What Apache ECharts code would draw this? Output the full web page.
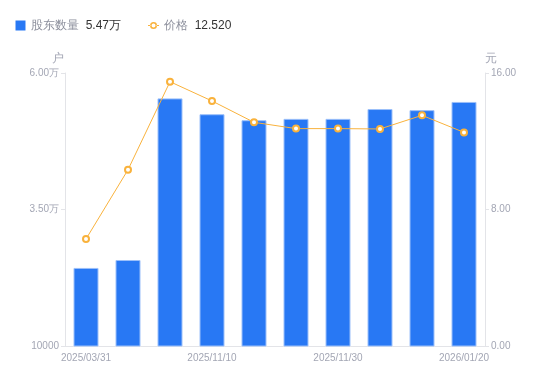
<!DOCTYPE html>
<html><head><meta charset="utf-8">
<script src="https://cdn.jsdelivr.net/npm/echarts@6/dist/echarts.min.js"></script>
<style>html,body{margin:0;padding:0;background:#fff}#c{width:550px;height:381px}</style>
</head><body><div id="c"></div>
<script>
const categories = ['2025/03/31','2025/06/30','2025/09/30','2025/11/10','2025/11/20','2025/11/25','2025/11/30','2025/12/10','2025/12/31','2026/01/20'];
const holders = [24300, 25750, 55350, 52450, 51350, 51600, 51600, 53400, 53200, 54700];
const prices = [6.27, 10.33, 15.49, 14.36, 13.11, 12.74, 12.74, 12.72, 13.52, 12.52];
const leftTicks = { min: 10000, max: 60000, interval: 25000 };
const rightTicks = { min: 0, max: 16, interval: 8 };

const fmtWan = v => v > 10000 ? (v / 10000).toFixed(2) + '万' : String(v);
const lastHolder = fmtWan(holders[holders.length - 1]);
const lastPrice = prices[prices.length - 1].toFixed(3);

const chart = echarts.init(document.getElementById('c'), null, {renderer: 'canvas'});
const axisLabelColor = '#a3a6b4';
chart.setOption({
  animation: false,
  legend: {
    left: 10.5, top: 14.5,
    itemWidth: 11, itemHeight: 10, itemGap: 27,
    itemStyle: { borderWidth: 0 },
    formatter: name => name === '股东数量'
      ? '{a|股东数量}  {b|' + lastHolder + '}'
      : '{a|价格}  {b|' + lastPrice + '}',
    textStyle: {
      rich: {
        a: { fontSize: 12, color: '#8c8f9c' },
        b: { fontSize: 12, color: '#333333' }
      }
    },
    data: [
      { name: '股东数量', icon: 'path://M0,0h10v10h-10z' },
      { name: '价格', icon: 'path://M0,4.5h2.5v1h-2.5z M8.5,4.5h2.5v1h-2.5z M5.5,1.5a3.5,3.5 0 1,0 0.001,0z M5.5,3a2,2 0 1,1 -0.001,0z' }
    ]
  },
  grid: { left: 65, right: 65, top: 73, bottom: 35, containLabel: false },
  xAxis: {
    type: 'category',
    data: categories,
    axisLine: { lineStyle: { color: '#e3e4e8' } },
    axisTick: { show: false },
    axisLabel: { interval: 2, color: axisLabelColor, fontSize: 10, margin: 7 }
  },
  yAxis: [
    {
      type: 'value', name: '户', min: leftTicks.min, max: leftTicks.max, interval: leftTicks.interval,
      nameTextStyle: { color: axisLabelColor, fontSize: 12, padding: [0, 1, 0, 0], align: 'right' },
      nameGap: 8,
      axisLine: { show: true, lineStyle: { color: '#e3e4e8' } },
      axisTick: { show: true, length: 4, lineStyle: { color: '#e3e4e8' } },
      splitLine: { show: false },
      axisLabel: { color: axisLabelColor, fontSize: 10, margin: 6, formatter: fmtWan }
    },
    {
      type: 'value', name: '元', min: rightTicks.min, max: rightTicks.max, interval: rightTicks.interval,
      nameTextStyle: { color: axisLabelColor, fontSize: 12, align: 'left', padding: [0, 0, 0, 0] },
      nameGap: 8,
      axisLine: { show: true, lineStyle: { color: '#e3e4e8' } },
      axisTick: { show: true, length: 4, lineStyle: { color: '#e3e4e8' } },
      splitLine: { show: false },
      axisLabel: { color: axisLabelColor, fontSize: 10, margin: 6, formatter: v => v.toFixed(2) }
    }
  ],
  series: [
    {
      name: '股东数量', type: 'bar', yAxisIndex: 0, data: holders,
      barWidth: 25,
      itemStyle: { color: '#2878f4', borderColor: '#9cc0fa', borderWidth: 1 }
    },
    {
      name: '价格', type: 'line', yAxisIndex: 1, data: prices,
      symbol: 'emptyCircle', symbolSize: 6,
      lineStyle: { color: '#f9b23c', width: 1 },
      itemStyle: { color: '#f9b23c', borderWidth: 2 }
    }
  ]
});
</script></body></html>
